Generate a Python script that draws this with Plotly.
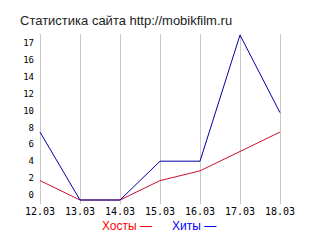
import plotly.graph_objects as go

dates = ["12.03", "13.03", "14.03", "15.03", "16.03", "17.03", "18.03"]
hosts = [2, 0, 0, 2, 3, 5, 7]
hits = [7, 0, 0, 4, 4, 17, 9]
ytick_labels = ["0", "2", "4", "6", "8", "10", "12", "14", "16", "17"]
ytick_vals = [0, 2, 4, 6, 8, 10, 12, 14, 16, 18]

title_text = "Статистика сайта http://mobikfilm.ru"
legend_hosts = "Хосты —"
legend_hits = "Хиты —"

xi = list(range(len(dates)))

fig = go.Figure()
fig.add_trace(go.Scatter(x=xi, y=hosts, mode="lines",
                         line=dict(color="#c8102e", width=1), hoverinfo="skip"))
fig.add_trace(go.Scatter(x=xi, y=hits, mode="lines",
                         line=dict(color="#0000a8", width=1), hoverinfo="skip"))
# invisible trace to carry the label axis
fig.add_trace(go.Scatter(x=[None], y=[None], yaxis="y2", showlegend=False))

fig.update_layout(
    width=320, height=240,
    margin=dict(l=37, r=37, t=34, b=36),
    paper_bgcolor="white", plot_bgcolor="white",
    showlegend=False,
    title=dict(text=title_text, x=20/320, xanchor="left", xref="container",
               y=1 - 20/240, yanchor="middle", yref="container",
               font=dict(family="Liberation Sans, Arial", size=13, color="#222")),
    xaxis=dict(range=[-3/40, 6 + 3/40], tickvals=xi, ticktext=dates, showgrid=True,
               gridcolor="#c8c8c8", gridwidth=1, zeroline=False, showline=False,
               ticks="", ticklen=0,
               tickfont=dict(family="DejaVu Sans Mono", size=10, color="#000")),
    yaxis=dict(range=[-4/9.706, 17 + 1/9.706], showgrid=False, zeroline=False,
               showline=False, showticklabels=False, ticks=""),
    yaxis2=dict(overlaying="y", side="left", range=[-9/16.9*2, (195-34)/16.9*2],
                tickvals=ytick_vals, ticktext=ytick_labels, showgrid=False,
                zeroline=False, showline=False, ticks="", ticklabelstandoff=2,
                tickfont=dict(family="DejaVu Sans Mono", size=9, color="#000")),
    annotations=[
        dict(text=legend_hosts, xref="paper", yref="paper", x=(100-37)/246,
             y=-(226-204)/170, xanchor="left", yanchor="middle", showarrow=False,
             font=dict(family="Liberation Sans, Arial", size=12, color="#ff0000")),
        dict(text=legend_hits, xref="paper", yref="paper", x=(170-37)/246,
             y=-(226-204)/170, xanchor="left", yanchor="middle", showarrow=False,
             font=dict(family="Liberation Sans, Arial", size=12, color="#0000ff")),
    ],
)

fig.write_html("out.html")
